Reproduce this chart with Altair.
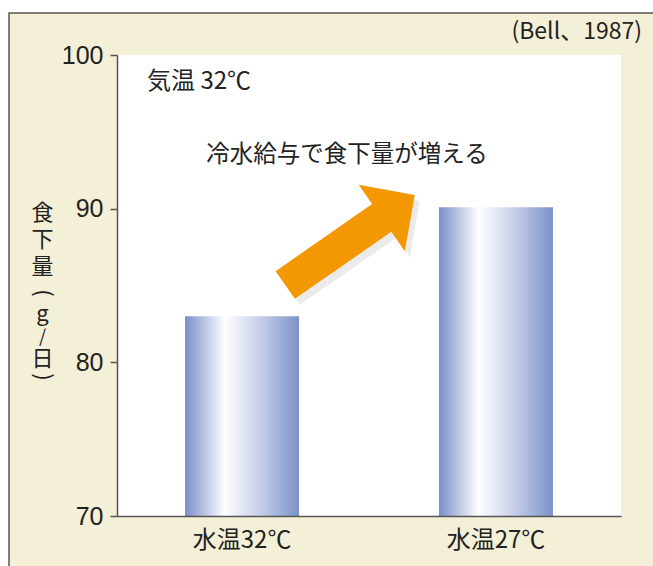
import altair as alt
import pandas as pd

# ---- data ----
categories = ["水温32℃", "水温27℃"]
intake = [83.0, 90.1]
y_ticks = [70, 80, 90, 100]
y_title = ["食", "下", "量", "(", "g", "/", "日", ")"]
note_air = "気温 32℃"
note_effect = "冷水給与で食下量が増える"
source = "(Bell、1987)"

FONT = "Noto Sans CJK JP"
NUMFONT = "Liberation Sans"
BEIGE = "#f4efd7"
ORANGE = "#f39800"
AX = "#555555"
INK = "#222222"

W, H = 504, 461

df = pd.DataFrame({"cat": categories, "val": intake})
one = pd.DataFrame({"a": [0]})

frame = alt.Chart(one).mark_rect(fill=BEIGE, stroke=AX, strokeWidth=1.5).encode(
    x=alt.value(-108), x2=alt.value(600), y=alt.value(-42), y2=alt.value(560)
)
plot_bg = alt.Chart(one).mark_rect(fill="white").encode(
    x=alt.value(0), x2=alt.value(W), y=alt.value(0), y2=alt.value(H)
)

grad = alt.Gradient(
    gradient="linear",
    x1=0, x2=1, y1=0, y2=0,
    stops=[
        alt.GradientStop(color="#7a8fca", offset=0),
        alt.GradientStop(color="#ffffff", offset=0.35),
        alt.GradientStop(color="#c9d0ea", offset=0.65),
        alt.GradientStop(color="#7b92c9", offset=1),
    ],
)

bars = alt.Chart(df).mark_bar(color=grad).encode(
    x=alt.X(
        "cat:N",
        sort=categories,
        scale=alt.Scale(paddingInner=0.551, paddingOuter=0.268),
        axis=alt.Axis(
            title=None, labelAngle=0, ticks=False, labelFont=FONT, labelFontSize=24,
            labelColor=INK, labelPadding=12, domainColor=AX, domainWidth=1.5, zindex=1,
        ),
    ),
    y=alt.Y(
        "val:Q",
        title=None,
        scale=alt.Scale(domain=[70, 100], nice=False, zero=False),
        axis=alt.Axis(
            values=y_ticks, grid=False, labelFont=NUMFONT, labelFontSize=25, labelColor=INK,
            labelPadding=7, tickSize=7, tickColor=AX, tickWidth=1.5, domainColor=AX,
            domainWidth=1.5, zindex=1,
        ),
    ),
    y2=alt.datum(70),
)

# vertical y-axis title, one glyph per row; parentheses turned to vertical form
title_rows = [158, 185, 212, 238, 259, 283, 304, 322]
title_angles = [0, 0, 0, 90, 0, 0, 0, 90]
title_sizes = [22, 22, 22, 22, 22, 18, 22, 22]
title_layers = []
for ch, yy, ang, fs in zip(y_title, title_rows, title_angles, title_sizes):
    kw = dict(text=ch, font=FONT, fontSize=fs, color=INK, align="center", baseline="middle")
    if ang:
        kw["angle"] = ang
    title_layers.append(
        alt.Chart(one).mark_text(**kw).encode(x=alt.value(-74.5), y=alt.value(yy))
    )

arrow_path = "M -1 -0.214 L 0.49 -0.214 L 0.49 -0.513 L 1 0 L 0.49 0.513 L 0.49 0.214 L -1 0.214 Z"
shadow = alt.Chart(one).mark_point(
    shape=arrow_path, filled=True, size=24870, angle=325.2, color="#999999", opacity=0.2
).encode(x=alt.value(238), y=alt.value(191))
arrow = alt.Chart(one).mark_point(
    shape=arrow_path, filled=True, size=24870, angle=325.2, color=ORANGE, opacity=1
).encode(x=alt.value(233), y=alt.value(185))

t_air = alt.Chart(one).mark_text(
    text=note_air, font=FONT, fontSize=24, color=INK, align="left", baseline="middle"
).encode(x=alt.value(30), y=alt.value(27))
t_effect = alt.Chart(one).mark_text(
    text=note_effect, font=FONT, fontSize=23.5, color=INK, align="center", baseline="middle"
).encode(x=alt.value(230), y=alt.value(100))
t_src = alt.Chart(one).mark_text(
    text=source, font=FONT, fontSize=23, color=INK, align="right", baseline="middle"
).encode(x=alt.value(525), y=alt.value(-23))

chart = alt.layer(
    frame, plot_bg, bars, shadow, arrow, t_air, t_effect, t_src, *title_layers
).properties(
    width=W, height=H,
    autosize=alt.AutoSizeParams(type="none"),
    padding={"left": 117, "top": 55, "right": 32, "bottom": 50},
    background="white",
).configure_view(stroke=None)

chart.save("out.html", embed_options={"renderer": "svg", "actions": False})
